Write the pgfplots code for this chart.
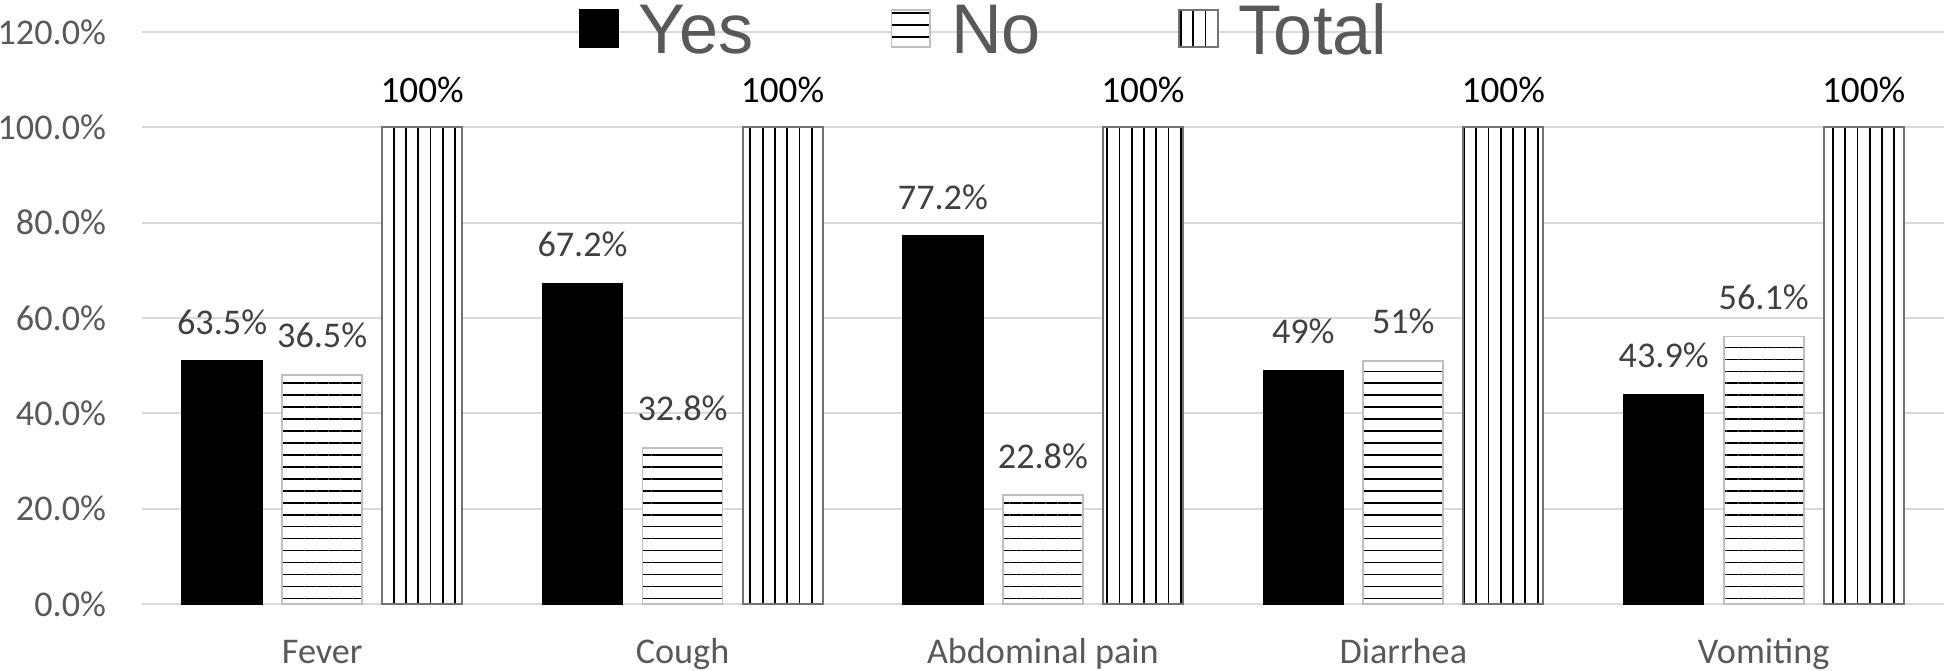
\documentclass[border=0pt]{standalone}
\usepackage{pgfplots}
\pgfplotsset{compat=1.18}
\usepackage{pgfplotstable}
\usepackage{fontspec}
\setmainfont{Carlito}
\newfontfamily\legfont{Liberation Sans}
\usetikzlibrary{patterns.meta,calc}
\definecolor{tickgray}{HTML}{595959}
\definecolor{labgray}{HTML}{404040}
\definecolor{gridgray}{HTML}{D9D9D9}

\pgfplotstableread{
x yes ylab no nlab tot
0 51.0 63.5 48.1 36.5 100
1 67.2 67.2 32.8 32.8 100
2 77.2 77.2 22.8 22.8 100
3 49.0 49 51.0 51 100
4 43.9 43.9 56.1 56.1 100
}\data

\begin{document}
\begin{tikzpicture}
\begin{axis}[name=ax, scale only axis, width=512.7pt, height=162.75pt,
 xmin=-0.5, xmax=4.5, ymin=0, ymax=120,
 ytick={0,20,...,120},
 yticklabels={0.0\%,20.0\%,40.0\%,60.0\%,80.0\%,100.0\%,120.0\%},
 xtick={0,...,4},
 xticklabels={Fever,Cough,Abdominal pain,Diarrhea,Vomiting},
 axis line style={draw=none}, major tick length=0pt,
 ymajorgrids, major grid style={gridgray, line width=0.6pt},
 tick label style={font=\fontsize{10.3}{12}\selectfont, text=tickgray},
 yticklabel style={xshift=-6.7pt},
 xticklabel style={text height=7pt, text depth=2pt, yshift=-6.5pt},
 ybar, bar width=0.222,
 legend image code/.code={\draw[#1] (0pt,-4.3pt) rectangle (11pt,6.3pt);},
 point meta=explicit symbolic,
 every node near coord/.append style={font=\fontsize{10.3}{12}\selectfont, text=labgray, yshift=4pt},
 legend columns=3,
 legend cell align=left,
 legend style={font=\legfont\fontsize{20}{24}\selectfont, text=tickgray,
   draw=none, fill=none, inner sep=0pt,
   at={(0.242,1)}, anchor=north west, yshift=8.25pt,
   /tikz/every odd column/.style={column sep=5.7pt},
   /tikz/every even column/.style={column sep=39pt},
   nodes={inner sep=0pt}},
 clip=false,
]
\addplot[bar shift=-0.2775, fill=black, draw=black,
  nodes near coords={\pgfplotspointmeta\%}]
  table[x=x, y=yes, meta=ylab] {\data};
\addplot[bar shift=0, fill=white, draw=black!25, line width=0.5pt,
  postaction={pattern={Lines[angle=0,distance=3.4pt,line width=0.45pt]}, pattern color=black},
  nodes near coords={\pgfplotspointmeta\%}]
  table[x=x, y=no, meta=nlab] {\data};
\addplot[bar shift=0.2775, fill=white, draw=black!55, line width=0.6pt,
  postaction={pattern={Lines[angle=90,distance=3.5pt,line width=0.5pt]}, pattern color=black},
  nodes near coords={100\%},
  every node near coord/.append style={text=black, font=\fontsize{10.6}{12}\selectfont, yshift=-0.6pt}]
  table[x=x, y=tot, meta=tot] {\data};
\legend{Yes,No,Total}
\end{axis}
\pgfresetboundingbox
\path[use as bounding box] ($(ax.south west)+(-40.4pt,-18.8pt)$) rectangle ($(ax.north east)+(0.6pt,9.1pt)$);
\end{tikzpicture}
\end{document}
